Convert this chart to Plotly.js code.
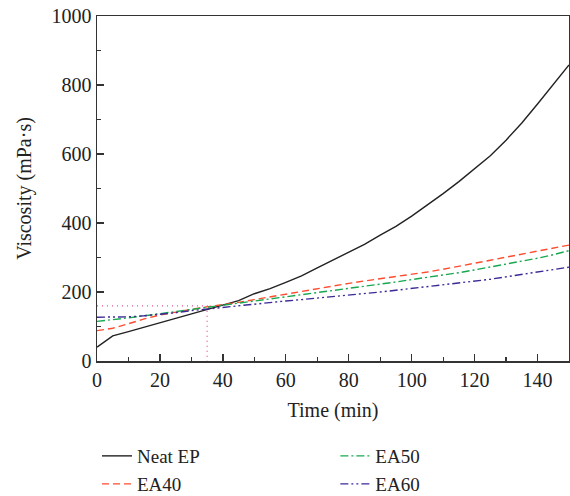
<!DOCTYPE html>
<html>
<head>
<meta charset="utf-8">
<script src="https://cdn.plot.ly/plotly-3.0.1.min.js"></script>
<style>html,body{margin:0;padding:0;background:#fff;}#chart{width:570px;height:496px;}</style>
</head>
<body>
<div id="chart"></div>
<script>
const time = [0,5,10,15,20,25,30,35,40,45,50,55,60,65,70,75,80,85,90,95,100,105,110,115,120,125,130,135,140,145,150];
const neatEP = [40,73,85,98,110,123,135,150,163,175,195,210,228,247,270,292,316,338,365,390,420,452,485,520,558,595,640,690,745,800,858];
const ea40 = [88,95,108,122,133,142,150,157,163,170,178,186,195,203,210,218,225,232,238,244,250,258,266,274,283,292,301,310,318,327,336];
const ea50 = [115,119,125,131,137,143,149,155,161,167,173,180,186,192,198,204,210,216,222,229,236,242,249,256,264,272,280,289,298,308,320];
const ea60 = [127,127,128,131,135,140,146,151,156,160,165,170,174,178,182,186,190,195,200,205,210,215,220,225,231,237,244,251,258,265,272];
const guideX = [0,35,35];
const guideY = [160,160,0];

const font = "'Liberation Serif', 'DejaVu Serif', serif";

const traces = [
  {x: guideX, y: guideY, mode:'lines', showlegend:false, hoverinfo:'skip',
   line:{color:'#e8559a', width:1.3, dash:'1px,4px'}},
  {x: time, y: neatEP, name:'Neat EP', mode:'lines', legend:'legend',
   line:{color:'#222222', width:1.4}},
  {x: time, y: ea40, name:'EA40', mode:'lines', legend:'legend2',
   line:{color:'#ff4b2e', width:1.4, dash:'7px,4px'}},
  {x: time, y: ea50, name:'EA50', mode:'lines', legend:'legend3',
   line:{color:'#17a84f', width:1.4, dash:'8px,3px,2px,3px'}},
  {x: time, y: ea60, name:'EA60', mode:'lines', legend:'legend4',
   line:{color:'#3a2a96', width:1.4, dash:'8px,3px,2px,3px,2px,3px'}}
];

const legFont = {family:font, size:19, color:'#222'};
function leg(x, y){
  return {x:x, xanchor:'left', y:y, yanchor:'middle', xref:'paper', yref:'container',
          font:legFont, bgcolor:'rgba(0,0,0,0)', borderwidth:0};
}

const layout = {
  width:570, height:496,
  margin:{l:97, r:1, t:16, b:135},
  paper_bgcolor:'#fff', plot_bgcolor:'#fff',
  font:{family:font, size:20, color:'#222'},
  xaxis:{range:[0,150], dtick:20, tick0:0, ticks:'inside', ticklen:7, tickwidth:1.3, tickcolor:'#333',
    minor:{dtick:10, tick0:0, ticks:'inside', ticklen:4, tickwidth:1.2, tickcolor:'#333'},
    showline:true, linecolor:'#333', linewidth:1.5, mirror:true, showgrid:false, zeroline:false,
    title:{text:'Time (min)', font:{family:font, size:20}, standoff:13},
    tickfont:{family:font, size:20}},
  yaxis:{range:[0,1000], dtick:200, tick0:0, ticks:'inside', ticklen:7, tickwidth:1.3, tickcolor:'#333',
    minor:{dtick:100, tick0:0, ticks:'inside', ticklen:4, tickwidth:1.2, tickcolor:'#333'},
    showline:true, linecolor:'#333', linewidth:1.5, mirror:true, showgrid:false, zeroline:false,
    title:{text:'Viscosity (mPa·s)', font:{family:font, size:20}, standoff:14},
    tickfont:{family:font, size:20}},
  legend: leg(0.0, 0.0806),
  legend2: leg(0.0, 0.0242),
  legend3: leg(0.505, 0.0806),
  legend4: leg(0.505, 0.0242),
  showlegend:true
};

Plotly.newPlot('chart', traces, layout, {displayModeBar:false, staticPlot:true});
</script>
</body>
</html>
